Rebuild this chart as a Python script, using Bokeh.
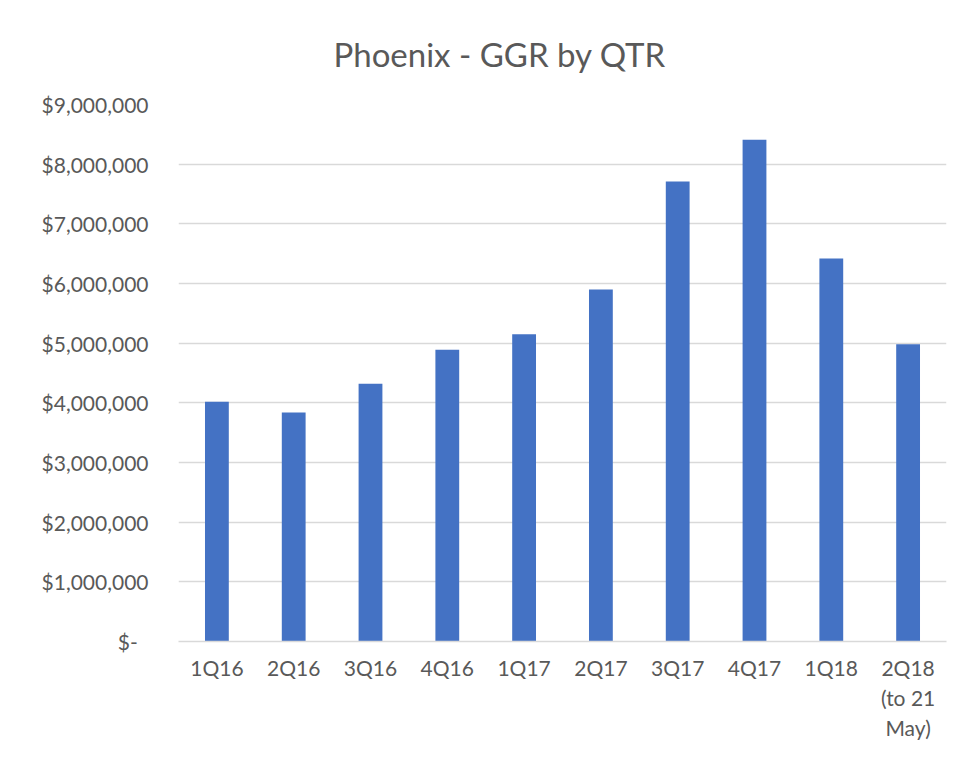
from bokeh.plotting import figure
from bokeh.models import ColumnDataSource, FixedTicker, NumeralTickFormatter, FactorRange, Range1d
from bokeh.embed import file_html
from bokeh.resources import INLINE

quarters = ["1Q16", "2Q16", "3Q16", "4Q16", "1Q17", "2Q17", "3Q17", "4Q17", "1Q18", "2Q18\n(to 21\nMay)"]
ggr = [4020000, 3840000, 4320000, 4890000, 5150000, 5900000, 7710000, 8410000, 6420000, 4980000]
y_ticks = [0, 1000000, 2000000, 3000000, 4000000, 5000000, 6000000, 7000000, 8000000, 9000000]

FONT = "Lato"
GREY = "#595959"

src = ColumnDataSource(dict(q=quarters, v=ggr))

p = figure(x_range=FactorRange(*quarters, range_padding=0), y_range=Range1d(0, 9000000),
           width=962, height=742, output_backend="svg", toolbar_location=None,
           title="Phoenix - GGR by QTR",
           min_border_left=178, min_border_right=16, min_border_top=104, min_border_bottom=101)

p.vbar(x="q", top="v", width=0.31, source=src, color="#4472c4", line_color=None)

p.title.align = "left"
p.title.offset = 155
p.title.standoff = 58
p.title.vertical_align = "top"
p.title.text_font = FONT
p.title.text_font_size = "33px"
p.title.text_font_style = "normal"
p.title.text_color = GREY

p.outline_line_color = None
p.background_fill_color = "white"
p.border_fill_color = "white"

p.xgrid.grid_line_color = None
p.ygrid.grid_line_color = "#d9d9d9"
p.ygrid.grid_line_width = 1.5

p.yaxis.ticker = FixedTicker(ticks=y_ticks)
p.yaxis.formatter = NumeralTickFormatter(format="$0,0")
p.yaxis.major_label_overrides = {0: "$-  "}
p.yaxis.axis_line_color = None
p.yaxis.major_tick_line_color = None
p.yaxis.minor_tick_line_color = None
p.yaxis.major_label_standoff = 24

p.xaxis.axis_line_color = "#d9d9d9"
p.xaxis.axis_line_width = 1.5
p.xaxis.major_tick_line_color = None
p.xaxis.minor_tick_line_color = None
p.xaxis.major_label_standoff = 7

for ax in (p.xaxis[0], p.yaxis[0]):
    ax.major_label_text_font = FONT
    ax.major_label_text_font_size = "21px"
    ax.major_label_text_color = GREY

open("out.html", "w").write(file_html(p, INLINE))
